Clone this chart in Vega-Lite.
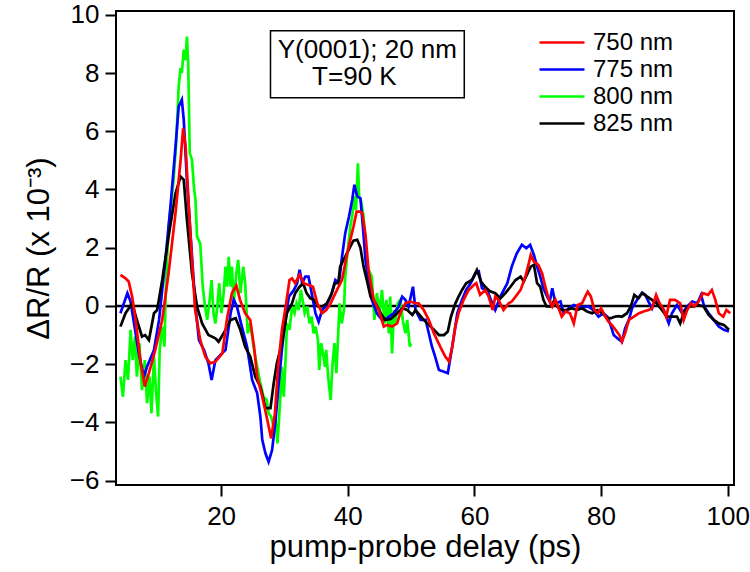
{
  "$schema": "https://vega.github.io/schema/vega-lite/v6.json",
  "width": 618,
  "height": 474,
  "autosize": {"type": "none"},
  "padding": {"left": 116, "top": 11, "right": 16, "bottom": 87},
  "background": "white",
  "config": {
    "font": "Liberation Sans",
    "view": {"stroke": "black", "strokeWidth": 2},
    "axis": {
      "grid": false,
      "domain": false,
      "ticks": true,
      "tickSize": 11,
      "tickWidth": 2,
      "tickColor": "black",
      "labelColor": "black",
      "labelFont": "Liberation Sans",
      "labelFontSize": 26,
      "titleFont": "Liberation Sans",
      "titleFontSize": 31,
      "titleFontWeight": "normal",
      "titleColor": "black"
    }
  },
  "datasets": {
    "series": [
      {"s":"750 nm","t":4.1,"v":1.07},{"s":"750 nm","t":4.9,"v":0.95},{"s":"750 nm","t":5.4,"v":0.84},{"s":"750 nm","t":5.95,"v":0.32},{"s":"750 nm","t":6.5,"v":-0.48},{"s":"750 nm","t":7.3,"v":-1.96},{"s":"750 nm","t":7.95,"v":-2.77},{"s":"750 nm","t":8.6,"v":-2.31},{"s":"750 nm","t":9.6,"v":-1.51},{"s":"750 nm","t":10.7,"v":-0.48},{"s":"750 nm","t":11.7,"v":1.12},{"s":"750 nm","t":12.8,"v":3.19},{"s":"750 nm","t":13.6,"v":5.0},{"s":"750 nm","t":14.0,"v":6.1},{"s":"750 nm","t":14.4,"v":5.47},{"s":"750 nm","t":14.9,"v":3.41},{"s":"750 nm","t":15.4,"v":1.58},{"s":"750 nm","t":15.9,"v":-0.14},{"s":"750 nm","t":16.7,"v":-1.17},{"s":"750 nm","t":17.5,"v":-1.74},{"s":"750 nm","t":18.3,"v":-1.97},{"s":"750 nm","t":19.1,"v":-1.91},{"s":"750 nm","t":20.2,"v":-1.63},{"s":"750 nm","t":20.9,"v":-0.48},{"s":"750 nm","t":21.7,"v":0.44},{"s":"750 nm","t":22.4,"v":0.7},{"s":"750 nm","t":23.0,"v":0.2},{"s":"750 nm","t":23.8,"v":-0.25},{"s":"750 nm","t":24.6,"v":-0.48},{"s":"750 nm","t":25.2,"v":-1.4},{"s":"750 nm","t":25.7,"v":-2.43},{"s":"750 nm","t":26.5,"v":-3.12},{"s":"750 nm","t":27.3,"v":-3.92},{"s":"750 nm","t":27.9,"v":-4.55},{"s":"750 nm","t":28.5,"v":-3.69},{"s":"750 nm","t":29.0,"v":-2.09},{"s":"750 nm","t":29.6,"v":-0.82},{"s":"750 nm","t":30.2,"v":-0.02},{"s":"750 nm","t":30.8,"v":0.89},{"s":"750 nm","t":31.2,"v":0.95},{"s":"750 nm","t":31.7,"v":0.78},{"s":"750 nm","t":32.4,"v":1.07},{"s":"750 nm","t":33.05,"v":0.78},{"s":"750 nm","t":33.8,"v":0.72},{"s":"750 nm","t":34.5,"v":0.66},{"s":"750 nm","t":35.2,"v":0.09},{"s":"750 nm","t":35.95,"v":-0.25},{"s":"750 nm","t":36.6,"v":-0.14},{"s":"750 nm","t":37.3,"v":0.09},{"s":"750 nm","t":38.3,"v":0.55},{"s":"750 nm","t":39.1,"v":0.89},{"s":"750 nm","t":39.8,"v":1.69},{"s":"750 nm","t":40.4,"v":2.27},{"s":"750 nm","t":40.9,"v":2.72},{"s":"750 nm","t":41.4,"v":3.24},{"s":"750 nm","t":41.9,"v":3.24},{"s":"750 nm","t":42.3,"v":3.19},{"s":"750 nm","t":42.8,"v":2.45},{"s":"750 nm","t":43.3,"v":1.2},{"s":"750 nm","t":44.1,"v":0.21},{"s":"750 nm","t":44.9,"v":-0.14},{"s":"750 nm","t":45.7,"v":-0.71},{"s":"750 nm","t":46.2,"v":-0.65},{"s":"750 nm","t":47.0,"v":-0.71},{"s":"750 nm","t":47.8,"v":-0.6},{"s":"750 nm","t":48.3,"v":-0.25},{"s":"750 nm","t":49.1,"v":0.09},{"s":"750 nm","t":49.9,"v":0.15},{"s":"750 nm","t":50.7,"v":0.09},{"s":"750 nm","t":51.2,"v":0.09},{"s":"750 nm","t":52.0,"v":-0.14},{"s":"750 nm","t":52.8,"v":-0.48},{"s":"750 nm","t":53.6,"v":-0.94},{"s":"750 nm","t":54.6,"v":-1.4},{"s":"750 nm","t":55.4,"v":-1.74},{"s":"750 nm","t":56.0,"v":-1.91},{"s":"750 nm","t":56.5,"v":-1.4},{"s":"750 nm","t":57.0,"v":-0.71},{"s":"750 nm","t":57.5,"v":-0.25},{"s":"750 nm","t":58.3,"v":0.21},{"s":"750 nm","t":59.1,"v":0.55},{"s":"750 nm","t":59.9,"v":0.72},{"s":"750 nm","t":60.3,"v":0.78},{"s":"750 nm","t":60.9,"v":0.38},{"s":"750 nm","t":61.7,"v":0.55},{"s":"750 nm","t":62.25,"v":0.32},{"s":"750 nm","t":62.9,"v":-0.14},{"s":"750 nm","t":63.3,"v":0.32},{"s":"750 nm","t":63.8,"v":0.21},{"s":"750 nm","t":64.6,"v":-0.14},{"s":"750 nm","t":65.4,"v":0.09},{"s":"750 nm","t":65.9,"v":0.15},{"s":"750 nm","t":66.5,"v":0.32},{"s":"750 nm","t":67.3,"v":0.55},{"s":"750 nm","t":68.05,"v":1.01},{"s":"750 nm","t":68.6,"v":1.47},{"s":"750 nm","t":68.9,"v":1.75},{"s":"750 nm","t":69.4,"v":1.52},{"s":"750 nm","t":70.1,"v":1.41},{"s":"750 nm","t":70.7,"v":1.12},{"s":"750 nm","t":71.2,"v":0.66},{"s":"750 nm","t":71.7,"v":0.26},{"s":"750 nm","t":72.3,"v":-0.02},{"s":"750 nm","t":72.8,"v":0.21},{"s":"750 nm","t":73.3,"v":-0.08},{"s":"750 nm","t":73.8,"v":-0.37},{"s":"750 nm","t":74.4,"v":-0.19},{"s":"750 nm","t":75.1,"v":-0.25},{"s":"750 nm","t":75.7,"v":-0.6},{"s":"750 nm","t":76.3,"v":0.03},{"s":"750 nm","t":77.0,"v":0.09},{"s":"750 nm","t":77.5,"v":0.32},{"s":"750 nm","t":77.9,"v":0.49},{"s":"750 nm","t":78.4,"v":0.32},{"s":"750 nm","t":78.95,"v":-0.14},{"s":"750 nm","t":79.5,"v":-0.25},{"s":"750 nm","t":80.0,"v":-0.08},{"s":"750 nm","t":80.7,"v":-0.37},{"s":"750 nm","t":81.2,"v":-0.55},{"s":"750 nm","t":81.7,"v":-0.65},{"s":"750 nm","t":82.4,"v":-0.85},{"s":"750 nm","t":82.9,"v":-1.0},{"s":"750 nm","t":83.3,"v":-1.23},{"s":"750 nm","t":83.8,"v":-0.94},{"s":"750 nm","t":84.4,"v":-0.48},{"s":"750 nm","t":85.2,"v":-0.37},{"s":"750 nm","t":86.0,"v":-0.25},{"s":"750 nm","t":86.7,"v":-0.19},{"s":"750 nm","t":87.5,"v":-0.14},{"s":"750 nm","t":88.05,"v":-0.08},{"s":"750 nm","t":88.7,"v":0.38},{"s":"750 nm","t":89.25,"v":0.09},{"s":"750 nm","t":89.8,"v":-0.08},{"s":"750 nm","t":90.3,"v":-0.37},{"s":"750 nm","t":90.9,"v":0.21},{"s":"750 nm","t":91.7,"v":0.21},{"s":"750 nm","t":92.5,"v":0.09},{"s":"750 nm","t":93.05,"v":-0.48},{"s":"750 nm","t":93.6,"v":-0.14},{"s":"750 nm","t":94.2,"v":0.09},{"s":"750 nm","t":94.7,"v":-0.02},{"s":"750 nm","t":95.4,"v":0.15},{"s":"750 nm","t":96.1,"v":0.44},{"s":"750 nm","t":96.9,"v":0.38},{"s":"750 nm","t":97.5,"v":0.55},{"s":"750 nm","t":98.05,"v":0.21},{"s":"750 nm","t":98.6,"v":-0.25},{"s":"750 nm","t":99.3,"v":-0.37},{"s":"750 nm","t":99.8,"v":-0.14},{"s":"750 nm","t":100.4,"v":-0.25},
      {"s":"775 nm","t":4.1,"v":-0.25},{"s":"775 nm","t":5.2,"v":0.44},{"s":"775 nm","t":5.7,"v":0.15},{"s":"775 nm","t":7.0,"v":-1.63},{"s":"775 nm","t":7.8,"v":-2.43},{"s":"775 nm","t":8.3,"v":-2.09},{"s":"775 nm","t":9.4,"v":-1.51},{"s":"775 nm","t":10.2,"v":-0.48},{"s":"775 nm","t":11.2,"v":1.58},{"s":"775 nm","t":12.0,"v":3.41},{"s":"775 nm","t":12.8,"v":5.47},{"s":"775 nm","t":13.3,"v":6.85},{"s":"775 nm","t":13.8,"v":7.08},{"s":"775 nm","t":14.1,"v":6.39},{"s":"775 nm","t":14.6,"v":4.33},{"s":"775 nm","t":15.3,"v":2.04},{"s":"775 nm","t":15.9,"v":0.09},{"s":"775 nm","t":16.5,"v":-1.17},{"s":"775 nm","t":17.3,"v":-1.51},{"s":"775 nm","t":18.0,"v":-1.97},{"s":"775 nm","t":18.5,"v":-2.54},{"s":"775 nm","t":19.1,"v":-1.86},{"s":"775 nm","t":19.9,"v":-1.68},{"s":"775 nm","t":20.7,"v":-1.51},{"s":"775 nm","t":21.5,"v":-0.25},{"s":"775 nm","t":22.0,"v":0.21},{"s":"775 nm","t":22.5,"v":-0.02},{"s":"775 nm","t":23.2,"v":-0.65},{"s":"775 nm","t":24.1,"v":-1.4},{"s":"775 nm","t":24.9,"v":-2.54},{"s":"775 nm","t":25.7,"v":-3.0},{"s":"775 nm","t":26.2,"v":-3.8},{"s":"775 nm","t":26.5,"v":-4.6},{"s":"775 nm","t":27.0,"v":-5.06},{"s":"775 nm","t":27.5,"v":-5.35},{"s":"775 nm","t":28.05,"v":-4.95},{"s":"775 nm","t":28.6,"v":-3.92},{"s":"775 nm","t":29.1,"v":-2.66},{"s":"775 nm","t":29.6,"v":-1.51},{"s":"775 nm","t":30.2,"v":-0.37},{"s":"775 nm","t":30.7,"v":0.32},{"s":"775 nm","t":31.5,"v":0.55},{"s":"775 nm","t":32.0,"v":0.78},{"s":"775 nm","t":32.4,"v":1.24},{"s":"775 nm","t":32.8,"v":0.78},{"s":"775 nm","t":33.3,"v":1.01},{"s":"775 nm","t":33.8,"v":1.01},{"s":"775 nm","t":34.4,"v":0.32},{"s":"775 nm","t":34.9,"v":-0.25},{"s":"775 nm","t":35.4,"v":-0.54},{"s":"775 nm","t":35.95,"v":-0.14},{"s":"775 nm","t":36.5,"v":-0.02},{"s":"775 nm","t":37.3,"v":0.32},{"s":"775 nm","t":38.05,"v":0.89},{"s":"775 nm","t":38.6,"v":0.78},{"s":"775 nm","t":39.1,"v":1.69},{"s":"775 nm","t":39.6,"v":2.5},{"s":"775 nm","t":40.2,"v":3.07},{"s":"775 nm","t":40.7,"v":3.64},{"s":"775 nm","t":41.05,"v":4.16},{"s":"775 nm","t":41.5,"v":3.76},{"s":"775 nm","t":42.0,"v":3.7},{"s":"775 nm","t":42.4,"v":2.7},{"s":"775 nm","t":42.8,"v":1.58},{"s":"775 nm","t":43.3,"v":0.8},{"s":"775 nm","t":43.8,"v":0.21},{"s":"775 nm","t":44.6,"v":-0.25},{"s":"775 nm","t":45.4,"v":-0.48},{"s":"775 nm","t":46.2,"v":-0.42},{"s":"775 nm","t":47.25,"v":-0.25},{"s":"775 nm","t":48.05,"v":-0.02},{"s":"775 nm","t":48.6,"v":0.32},{"s":"775 nm","t":49.1,"v":0.21},{"s":"775 nm","t":49.6,"v":-0.02},{"s":"775 nm","t":50.3,"v":0.66},{"s":"775 nm","t":50.7,"v":-0.14},{"s":"775 nm","t":51.5,"v":-0.48},{"s":"775 nm","t":52.3,"v":-0.48},{"s":"775 nm","t":52.8,"v":-0.94},{"s":"775 nm","t":53.3,"v":-1.4},{"s":"775 nm","t":53.8,"v":-1.74},{"s":"775 nm","t":54.4,"v":-2.2},{"s":"775 nm","t":55.2,"v":-2.26},{"s":"775 nm","t":55.8,"v":-2.31},{"s":"775 nm","t":56.5,"v":-1.4},{"s":"775 nm","t":57.3,"v":-0.25},{"s":"775 nm","t":58.05,"v":0.21},{"s":"775 nm","t":58.7,"v":0.55},{"s":"775 nm","t":59.4,"v":0.78},{"s":"775 nm","t":60.2,"v":1.12},{"s":"775 nm","t":60.7,"v":1.18},{"s":"775 nm","t":61.2,"v":0.61},{"s":"775 nm","t":62.0,"v":0.55},{"s":"775 nm","t":62.6,"v":0.21},{"s":"775 nm","t":63.3,"v":-0.14},{"s":"775 nm","t":64.1,"v":0.32},{"s":"775 nm","t":65.2,"v":0.78},{"s":"775 nm","t":65.9,"v":1.35},{"s":"775 nm","t":66.7,"v":1.81},{"s":"775 nm","t":67.5,"v":2.1},{"s":"775 nm","t":68.2,"v":1.98},{"s":"775 nm","t":68.8,"v":2.1},{"s":"775 nm","t":69.4,"v":1.75},{"s":"775 nm","t":69.9,"v":1.35},{"s":"775 nm","t":70.4,"v":1.01},{"s":"775 nm","t":70.9,"v":0.61},{"s":"775 nm","t":71.5,"v":0.32},{"s":"775 nm","t":71.9,"v":0.15},{"s":"775 nm","t":72.3,"v":0.61},{"s":"775 nm","t":72.8,"v":0.09},{"s":"775 nm","t":73.6,"v":0.15},{"s":"775 nm","t":74.1,"v":-0.25},{"s":"775 nm","t":74.9,"v":-0.08},{"s":"775 nm","t":75.7,"v":0.03},{"s":"775 nm","t":76.5,"v":-0.02},{"s":"775 nm","t":77.3,"v":-0.04},{"s":"775 nm","t":78.0,"v":-0.02},{"s":"775 nm","t":78.8,"v":-0.14},{"s":"775 nm","t":79.6,"v":-0.37},{"s":"775 nm","t":80.4,"v":-0.25},{"s":"775 nm","t":81.0,"v":-0.37},{"s":"775 nm","t":81.5,"v":-0.65},{"s":"775 nm","t":82.0,"v":-1.0},{"s":"775 nm","t":82.8,"v":-1.15},{"s":"775 nm","t":83.3,"v":-1.23},{"s":"775 nm","t":83.8,"v":-0.77},{"s":"775 nm","t":84.4,"v":-0.48},{"s":"775 nm","t":84.9,"v":-0.08},{"s":"775 nm","t":85.7,"v":0.21},{"s":"775 nm","t":86.5,"v":0.46},{"s":"775 nm","t":87.0,"v":0.38},{"s":"775 nm","t":87.5,"v":0.15},{"s":"775 nm","t":88.05,"v":-0.08},{"s":"775 nm","t":88.6,"v":0.26},{"s":"775 nm","t":89.1,"v":0.09},{"s":"775 nm","t":89.9,"v":-0.14},{"s":"775 nm","t":90.7,"v":-0.6},{"s":"775 nm","t":91.2,"v":-0.25},{"s":"775 nm","t":92.0,"v":0.03},{"s":"775 nm","t":92.8,"v":-0.25},{"s":"775 nm","t":93.6,"v":-0.02},{"s":"775 nm","t":94.4,"v":0.15},{"s":"775 nm","t":95.2,"v":0.09},{"s":"775 nm","t":95.8,"v":0.38},{"s":"775 nm","t":96.3,"v":-0.02},{"s":"775 nm","t":97.0,"v":-0.25},{"s":"775 nm","t":97.8,"v":-0.48},{"s":"775 nm","t":98.6,"v":-0.71},{"s":"775 nm","t":99.4,"v":-0.82},{"s":"775 nm","t":100.2,"v":-0.88},
      {"s":"825 nm","t":4.1,"v":-0.71},{"s":"825 nm","t":4.9,"v":-0.25},{"s":"825 nm","t":5.95,"v":0.09},{"s":"825 nm","t":6.7,"v":-0.48},{"s":"825 nm","t":7.5,"v":-1.05},{"s":"825 nm","t":8.0,"v":-1.0},{"s":"825 nm","t":8.6,"v":-1.17},{"s":"825 nm","t":9.4,"v":-0.25},{"s":"825 nm","t":9.9,"v":-0.14},{"s":"825 nm","t":10.7,"v":0.89},{"s":"825 nm","t":11.7,"v":2.38},{"s":"825 nm","t":12.8,"v":3.87},{"s":"825 nm","t":13.6,"v":4.44},{"s":"825 nm","t":14.1,"v":4.33},{"s":"825 nm","t":14.6,"v":2.96},{"s":"825 nm","t":15.4,"v":1.12},{"s":"825 nm","t":16.2,"v":-0.02},{"s":"825 nm","t":17.0,"v":-0.6},{"s":"825 nm","t":18.0,"v":-1.0},{"s":"825 nm","t":19.1,"v":-1.11},{"s":"825 nm","t":19.6,"v":-1.23},{"s":"825 nm","t":20.4,"v":-0.94},{"s":"825 nm","t":21.5,"v":-0.48},{"s":"825 nm","t":22.3,"v":-0.42},{"s":"825 nm","t":23.0,"v":-0.8},{"s":"825 nm","t":23.8,"v":-1.4},{"s":"825 nm","t":24.6,"v":-1.74},{"s":"825 nm","t":25.4,"v":-2.43},{"s":"825 nm","t":26.2,"v":-2.77},{"s":"825 nm","t":27.0,"v":-3.51},{"s":"825 nm","t":27.8,"v":-3.51},{"s":"825 nm","t":28.3,"v":-2.66},{"s":"825 nm","t":28.8,"v":-1.97},{"s":"825 nm","t":29.6,"v":-1.28},{"s":"825 nm","t":30.4,"v":-0.25},{"s":"825 nm","t":31.2,"v":0.09},{"s":"825 nm","t":31.7,"v":0.44},{"s":"825 nm","t":32.4,"v":0.66},{"s":"825 nm","t":32.95,"v":0.78},{"s":"825 nm","t":33.5,"v":0.44},{"s":"825 nm","t":34.1,"v":0.26},{"s":"825 nm","t":34.7,"v":0.21},{"s":"825 nm","t":35.3,"v":-0.02},{"s":"825 nm","t":35.95,"v":-0.02},{"s":"825 nm","t":36.7,"v":0.09},{"s":"825 nm","t":37.5,"v":0.44},{"s":"825 nm","t":37.95,"v":0.78},{"s":"825 nm","t":38.5,"v":0.78},{"s":"825 nm","t":38.8,"v":1.35},{"s":"825 nm","t":39.6,"v":1.69},{"s":"825 nm","t":40.4,"v":2.04},{"s":"825 nm","t":40.9,"v":2.24},{"s":"825 nm","t":41.5,"v":2.27},{"s":"825 nm","t":42.0,"v":2.0},{"s":"825 nm","t":42.5,"v":1.35},{"s":"825 nm","t":43.05,"v":0.85},{"s":"825 nm","t":43.6,"v":0.32},{"s":"825 nm","t":44.4,"v":0.09},{"s":"825 nm","t":45.2,"v":-0.25},{"s":"825 nm","t":45.9,"v":-0.48},{"s":"825 nm","t":46.8,"v":-0.45},{"s":"825 nm","t":47.8,"v":-0.25},{"s":"825 nm","t":48.6,"v":-0.08},{"s":"825 nm","t":49.4,"v":-0.14},{"s":"825 nm","t":50.2,"v":-0.31},{"s":"825 nm","t":50.7,"v":-0.14},{"s":"825 nm","t":52.0,"v":-0.48},{"s":"825 nm","t":52.8,"v":-0.65},{"s":"825 nm","t":53.6,"v":-0.82},{"s":"825 nm","t":54.4,"v":-1.0},{"s":"825 nm","t":55.2,"v":-1.0},{"s":"825 nm","t":55.8,"v":-0.88},{"s":"825 nm","t":56.3,"v":-0.37},{"s":"825 nm","t":57.0,"v":0.09},{"s":"825 nm","t":57.5,"v":0.32},{"s":"825 nm","t":58.05,"v":0.55},{"s":"825 nm","t":58.7,"v":0.78},{"s":"825 nm","t":59.6,"v":0.89},{"s":"825 nm","t":60.4,"v":1.24},{"s":"825 nm","t":61.05,"v":0.84},{"s":"825 nm","t":61.7,"v":0.66},{"s":"825 nm","t":62.5,"v":0.5},{"s":"825 nm","t":63.3,"v":0.44},{"s":"825 nm","t":64.1,"v":0.26},{"s":"825 nm","t":64.9,"v":0.44},{"s":"825 nm","t":65.7,"v":0.66},{"s":"825 nm","t":66.5,"v":0.89},{"s":"825 nm","t":67.3,"v":1.01},{"s":"825 nm","t":67.8,"v":0.84},{"s":"825 nm","t":68.4,"v":1.12},{"s":"825 nm","t":68.9,"v":1.35},{"s":"825 nm","t":69.4,"v":1.41},{"s":"825 nm","t":69.9,"v":0.78},{"s":"825 nm","t":70.4,"v":0.66},{"s":"825 nm","t":70.9,"v":0.21},{"s":"825 nm","t":71.4,"v":-0.02},{"s":"825 nm","t":72.0,"v":-0.02},{"s":"825 nm","t":72.5,"v":0.15},{"s":"825 nm","t":73.05,"v":-0.02},{"s":"825 nm","t":73.8,"v":-0.14},{"s":"825 nm","t":74.6,"v":-0.14},{"s":"825 nm","t":75.4,"v":-0.08},{"s":"825 nm","t":76.2,"v":-0.14},{"s":"825 nm","t":77.0,"v":-0.08},{"s":"825 nm","t":77.8,"v":-0.19},{"s":"825 nm","t":78.6,"v":-0.25},{"s":"825 nm","t":79.4,"v":-0.14},{"s":"825 nm","t":80.2,"v":-0.25},{"s":"825 nm","t":81.0,"v":-0.42},{"s":"825 nm","t":81.6,"v":-0.42},{"s":"825 nm","t":82.1,"v":-0.37},{"s":"825 nm","t":82.8,"v":-0.35},{"s":"825 nm","t":83.3,"v":-0.37},{"s":"825 nm","t":84.1,"v":-0.25},{"s":"825 nm","t":84.7,"v":-0.02},{"s":"825 nm","t":85.25,"v":0.38},{"s":"825 nm","t":85.9,"v":0.26},{"s":"825 nm","t":86.5,"v":0.44},{"s":"825 nm","t":87.3,"v":0.32},{"s":"825 nm","t":88.05,"v":0.21},{"s":"825 nm","t":88.8,"v":0.09},{"s":"825 nm","t":89.6,"v":-0.14},{"s":"825 nm","t":90.4,"v":-0.37},{"s":"825 nm","t":91.2,"v":-0.37},{"s":"825 nm","t":92.0,"v":-0.37},{"s":"825 nm","t":92.5,"v":-0.6},{"s":"825 nm","t":93.05,"v":-0.25},{"s":"825 nm","t":93.8,"v":-0.02},{"s":"825 nm","t":94.6,"v":-0.02},{"s":"825 nm","t":95.4,"v":0.03},{"s":"825 nm","t":96.2,"v":-0.02},{"s":"825 nm","t":97.0,"v":-0.31},{"s":"825 nm","t":97.8,"v":-0.48},{"s":"825 nm","t":98.6,"v":-0.6},{"s":"825 nm","t":99.4,"v":-0.65},{"s":"825 nm","t":100.2,"v":-0.82},
      {"s":"800 nm","t":4.1,"v":-2.43},{"s":"800 nm","t":4.5,"v":-3.12},{"s":"800 nm","t":4.9,"v":-1.86},{"s":"800 nm","t":5.3,"v":-2.54},{"s":"800 nm","t":5.7,"v":-0.82},{"s":"800 nm","t":6.05,"v":-1.86},{"s":"800 nm","t":6.4,"v":-1.05},{"s":"800 nm","t":6.7,"v":-2.43},{"s":"800 nm","t":7.1,"v":-1.28},{"s":"800 nm","t":7.5,"v":-2.89},{"s":"800 nm","t":7.95,"v":-1.86},{"s":"800 nm","t":8.3,"v":-3.34},{"s":"800 nm","t":8.7,"v":-2.43},{"s":"800 nm","t":9.0,"v":-3.69},{"s":"800 nm","t":9.4,"v":-1.74},{"s":"800 nm","t":9.7,"v":-2.89},{"s":"800 nm","t":10.05,"v":-3.8},{"s":"800 nm","t":10.3,"v":-1.51},{"s":"800 nm","t":10.7,"v":-0.71},{"s":"800 nm","t":11.05,"v":-1.4},{"s":"800 nm","t":11.3,"v":0.78},{"s":"800 nm","t":11.7,"v":2.72},{"s":"800 nm","t":12.5,"v":4.33},{"s":"800 nm","t":12.9,"v":5.59},{"s":"800 nm","t":13.3,"v":7.54},{"s":"800 nm","t":13.6,"v":8.17},{"s":"800 nm","t":13.8,"v":8.0},{"s":"800 nm","t":14.1,"v":8.8},{"s":"800 nm","t":14.4,"v":8.45},{"s":"800 nm","t":14.6,"v":9.25},{"s":"800 nm","t":14.8,"v":8.34},{"s":"800 nm","t":15.05,"v":5.25},{"s":"800 nm","t":15.4,"v":5.02},{"s":"800 nm","t":15.7,"v":4.1},{"s":"800 nm","t":15.95,"v":3.64},{"s":"800 nm","t":16.2,"v":2.38},{"s":"800 nm","t":16.7,"v":2.15},{"s":"800 nm","t":17.1,"v":0.66},{"s":"800 nm","t":17.4,"v":0.09},{"s":"800 nm","t":17.8,"v":-0.48},{"s":"800 nm","t":18.2,"v":0.21},{"s":"800 nm","t":18.5,"v":0.89},{"s":"800 nm","t":18.8,"v":-0.25},{"s":"800 nm","t":19.1,"v":-0.6},{"s":"800 nm","t":19.4,"v":-0.02},{"s":"800 nm","t":19.7,"v":0.78},{"s":"800 nm","t":20.05,"v":-0.25},{"s":"800 nm","t":20.4,"v":0.44},{"s":"800 nm","t":20.7,"v":1.35},{"s":"800 nm","t":20.95,"v":0.66},{"s":"800 nm","t":21.2,"v":1.69},{"s":"800 nm","t":21.5,"v":0.66},{"s":"800 nm","t":21.7,"v":1.35},{"s":"800 nm","t":22.0,"v":0.09},{"s":"800 nm","t":22.4,"v":1.12},{"s":"800 nm","t":22.7,"v":1.58},{"s":"800 nm","t":23.05,"v":0.44},{"s":"800 nm","t":23.5,"v":1.35},{"s":"800 nm","t":23.8,"v":0.78},{"s":"800 nm","t":24.2,"v":-0.94},{"s":"800 nm","t":24.6,"v":-0.6},{"s":"800 nm","t":25.2,"v":-1.51},{"s":"800 nm","t":25.7,"v":-2.09},{"s":"800 nm","t":26.2,"v":-2.66},{"s":"800 nm","t":26.7,"v":-3.12},{"s":"800 nm","t":27.2,"v":-3.23},{"s":"800 nm","t":27.5,"v":-3.69},{"s":"800 nm","t":27.9,"v":-3.8},{"s":"800 nm","t":28.3,"v":-4.15},{"s":"800 nm","t":28.6,"v":-3.9},{"s":"800 nm","t":28.9,"v":-4.72},{"s":"800 nm","t":29.3,"v":-3.34},{"s":"800 nm","t":29.6,"v":-2.09},{"s":"800 nm","t":29.9,"v":-3.12},{"s":"800 nm","t":30.2,"v":-1.74},{"s":"800 nm","t":30.4,"v":-0.6},{"s":"800 nm","t":30.8,"v":-0.82},{"s":"800 nm","t":31.2,"v":-0.02},{"s":"800 nm","t":31.6,"v":-0.25},{"s":"800 nm","t":31.9,"v":0.09},{"s":"800 nm","t":32.25,"v":-0.14},{"s":"800 nm","t":32.6,"v":0.55},{"s":"800 nm","t":32.95,"v":0.09},{"s":"800 nm","t":33.2,"v":-0.25},{"s":"800 nm","t":33.6,"v":-0.02},{"s":"800 nm","t":33.95,"v":-0.6},{"s":"800 nm","t":34.3,"v":-0.37},{"s":"800 nm","t":34.6,"v":-0.94},{"s":"800 nm","t":34.9,"v":-0.71},{"s":"800 nm","t":35.3,"v":-1.17},{"s":"800 nm","t":35.5,"v":-2.2},{"s":"800 nm","t":35.8,"v":-1.28},{"s":"800 nm","t":36.1,"v":-1.63},{"s":"800 nm","t":36.4,"v":-2.09},{"s":"800 nm","t":36.6,"v":-1.51},{"s":"800 nm","t":36.9,"v":-2.43},{"s":"800 nm","t":37.3,"v":-3.23},{"s":"800 nm","t":37.6,"v":-1.97},{"s":"800 nm","t":37.9,"v":-1.28},{"s":"800 nm","t":38.2,"v":-2.31},{"s":"800 nm","t":38.5,"v":-0.94},{"s":"800 nm","t":38.7,"v":0.09},{"s":"800 nm","t":39.05,"v":-0.6},{"s":"800 nm","t":39.4,"v":-0.14},{"s":"800 nm","t":39.6,"v":1.01},{"s":"800 nm","t":40.0,"v":1.92},{"s":"800 nm","t":40.4,"v":2.72},{"s":"800 nm","t":40.7,"v":3.07},{"s":"800 nm","t":41.05,"v":3.76},{"s":"800 nm","t":41.3,"v":3.3},{"s":"800 nm","t":41.6,"v":4.9},{"s":"800 nm","t":41.8,"v":3.76},{"s":"800 nm","t":42.1,"v":3.6},{"s":"800 nm","t":42.5,"v":3.07},{"s":"800 nm","t":43.05,"v":1.35},{"s":"800 nm","t":43.8,"v":1.01},{"s":"800 nm","t":44.2,"v":-0.48},{"s":"800 nm","t":44.6,"v":0.44},{"s":"800 nm","t":45.05,"v":-0.25},{"s":"800 nm","t":45.4,"v":0.55},{"s":"800 nm","t":45.8,"v":-0.6},{"s":"800 nm","t":46.1,"v":0.21},{"s":"800 nm","t":46.5,"v":-0.94},{"s":"800 nm","t":46.7,"v":0.32},{"s":"800 nm","t":47.0,"v":-1.63},{"s":"800 nm","t":47.3,"v":-0.14},{"s":"800 nm","t":47.5,"v":-0.6},{"s":"800 nm","t":47.9,"v":0.1},{"s":"800 nm","t":48.3,"v":0.21},{"s":"800 nm","t":48.7,"v":-0.5},{"s":"800 nm","t":49.1,"v":-0.94},{"s":"800 nm","t":49.4,"v":-0.48},{"s":"800 nm","t":49.8,"v":-1.4},{"s":"800 nm","t":50.0,"v":-1.28}
    ],
    "zero": [{"z": 0}],
    "box": [{"line1": "Y(0001); 20 nm", "line2": "T=90 K"}]
  },
  "layer": [
    {
      "data": {"name": "zero"},
      "mark": {"type": "rule", "color": "black", "strokeWidth": 2.5},
      "encoding": {
        "y": {
          "field": "z", "type": "quantitative",
          "scale": {"domain": [-6.15, 10.13], "nice": false, "zero": false},
          "axis": {"values": [-6, -4, -2, 0, 2, 4, 6, 8, 10], "title": "ΔR/R (x 10⁻³)", "labelPadding": 6, "titlePadding": 14}
        }
      }
    },
    {
      "data": {"name": "series"},
      "transform": [{"filter": {"field": "s", "equal": "800 nm"}}],
      "mark": {"type": "line", "strokeWidth": 2.7},
      "encoding": {
        "x": {
          "field": "t", "type": "quantitative",
          "scale": {"domain": [3.4, 101.0], "nice": false, "zero": false},
          "axis": {"values": [20, 40, 60, 80, 100], "title": "pump-probe delay (ps)", "labelPadding": 7, "titlePadding": 3}
        },
        "y": {"field": "v", "type": "quantitative"},
        "color": {
          "field": "s", "type": "nominal",
          "scale": {"domain": ["750 nm", "775 nm", "800 nm", "825 nm"], "range": ["#ff0000", "#0000ff", "#00ff00", "#000000"]},
          "legend": {
            "title": null,
            "orient": "none",
            "legendX": 422,
            "legendY": 18,
            "padding": 0,
            "symbolType": "stroke",
            "symbolSize": 2025,
            "symbolStrokeWidth": 2.7,
            "clipHeight": 27,
            "rowPadding": 0,
            "labelFont": "Liberation Sans",
            "labelFontSize": 24,
            "labelColor": "black",
            "labelOffset": 7
          }
        }
      }
    },
    {
      "data": {"name": "series"},
      "transform": [{"filter": {"field": "s", "equal": "775 nm"}}],
      "mark": {"type": "line", "strokeWidth": 2.7},
      "encoding": {
        "x": {"field": "t", "type": "quantitative"},
        "y": {"field": "v", "type": "quantitative"},
        "color": {"field": "s", "type": "nominal"}
      }
    },
    {
      "data": {"name": "series"},
      "transform": [{"filter": {"field": "s", "equal": "825 nm"}}],
      "mark": {"type": "line", "strokeWidth": 2.7},
      "encoding": {
        "x": {"field": "t", "type": "quantitative"},
        "y": {"field": "v", "type": "quantitative"},
        "color": {"field": "s", "type": "nominal"}
      }
    },
    {
      "data": {"name": "series"},
      "transform": [{"filter": {"field": "s", "equal": "750 nm"}}],
      "mark": {"type": "line", "strokeWidth": 2.7},
      "encoding": {
        "x": {"field": "t", "type": "quantitative"},
        "y": {"field": "v", "type": "quantitative"},
        "color": {"field": "s", "type": "nominal"}
      }
    },
    {
      "data": {"name": "box"},
      "mark": {"type": "rect", "fill": "white", "stroke": "black", "strokeWidth": 1.5},
      "encoding": {
        "x": {"datum": 27.8, "type": "quantitative"},
        "x2": {"datum": 58.4},
        "y": {"datum": 9.45, "type": "quantitative"},
        "y2": {"datum": 7.15}
      }
    },
    {
      "data": {"name": "box"},
      "mark": {"type": "text", "fontSize": 26, "font": "Liberation Sans", "color": "black", "align": "center", "baseline": "middle"},
      "encoding": {
        "x": {"datum": 43.1, "type": "quantitative"},
        "y": {"datum": 8.8, "type": "quantitative"},
        "text": {"field": "line1"}
      }
    },
    {
      "data": {"name": "box"},
      "mark": {"type": "text", "fontSize": 26, "font": "Liberation Sans", "color": "black", "align": "center", "baseline": "middle"},
      "encoding": {
        "x": {"datum": 41.05, "type": "quantitative"},
        "y": {"datum": 7.87, "type": "quantitative"},
        "text": {"field": "line2"}
      }
    }
  ]
}
